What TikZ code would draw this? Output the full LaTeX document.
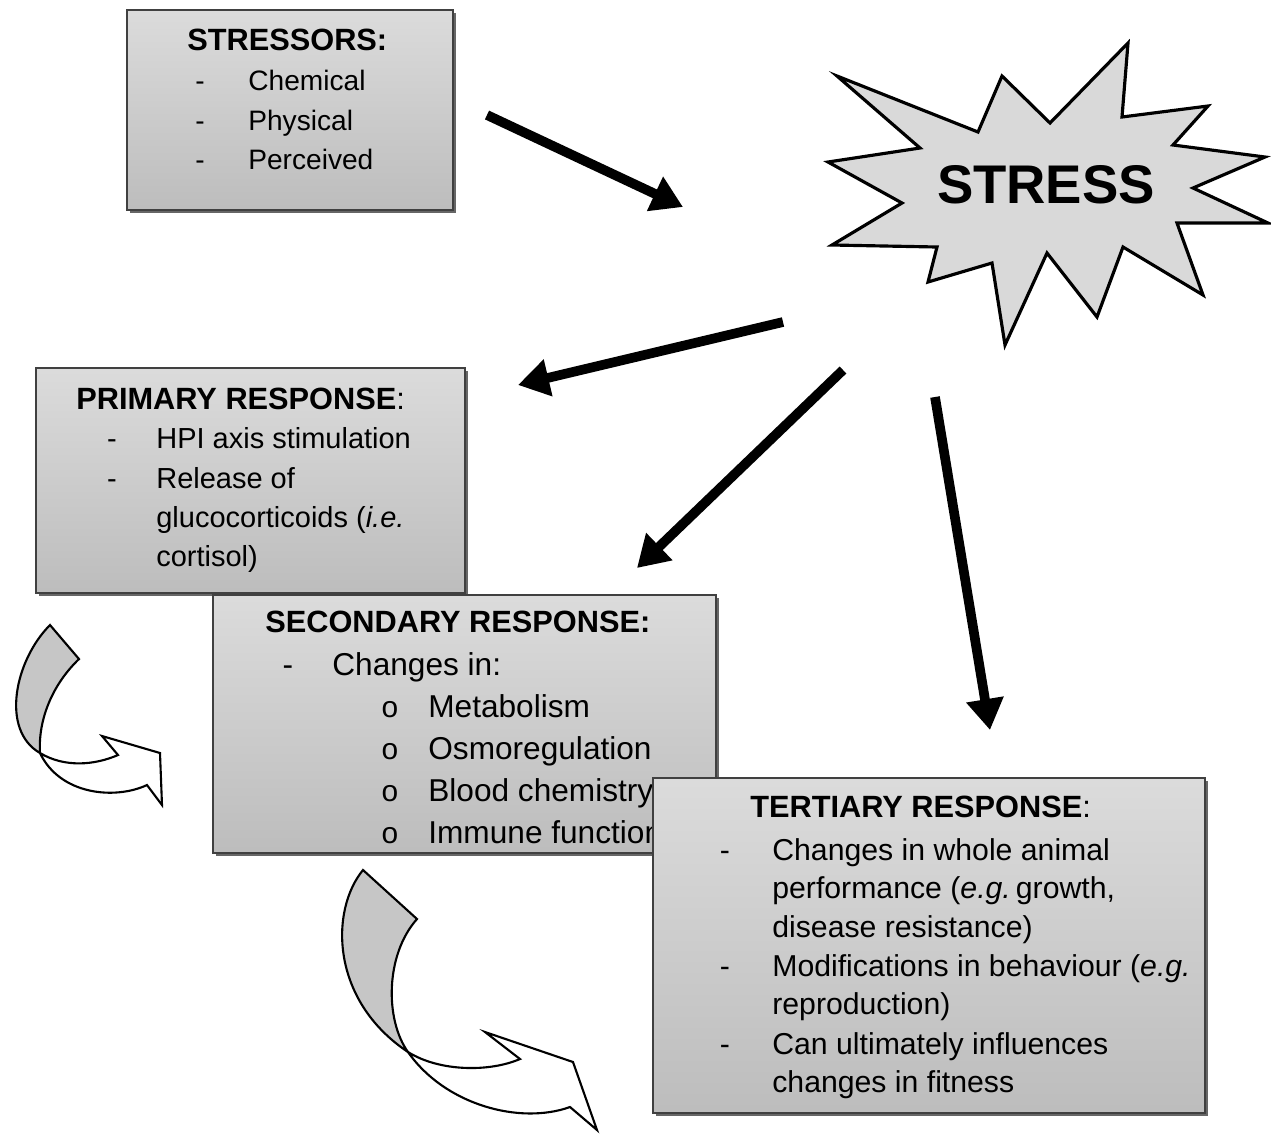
\documentclass[tikz,border=0pt]{standalone}
\usepackage{fontspec}
\setmainfont{Liberation Sans}
\usetikzlibrary{arrows.meta, shadows}
\tikzset{
    panel/.style={draw=black!75, line width=0.9pt, top color=gray!28, bottom color=gray!52,
        drop shadow={shadow xshift=1.5pt, shadow yshift=-1.5pt, fill=black!60, opacity=1}},
    head/.style={font=\bfseries\fontsize{17.5}{21}\selectfont, anchor=base west, inner sep=0pt},
    txt/.style={font=\fontsize{#1}{#1}\selectfont, anchor=base west, inner sep=0pt},
    mark dash/.style={font=\fontsize{#1}{#1}\selectfont, anchor=base, inner sep=0pt},
    burst/.style={draw=black, line width=1.8pt, line join=miter, fill=gray!30},
    push/.style={line width=5.5pt, -{Triangle[length=0.62cm, width=0.72cm]}},
    twist/.style={draw=black, line width=1.2pt, line join=miter}
}
\begin{document}
\begin{tikzpicture}[x=0.02cm, y=-0.02cm]
    \useasboundingbox (0,0) rectangle (1271,1134);

    % Stressors box
    \node[panel, minimum width=6.52cm, minimum height=4cm] (stressors) at (290,110) {};
    \node[head] (stressorsHead) at (187,50) {STRESSORS:};
    \foreach \y/\t in {90/Chemical, 130/Physical, 169/Perceived} {
        \node[mark dash=16] at (200,\y) {-};
        \node[txt=16] at (248,\y) {\t};
    }

    % Stress starburst
    \draw[burst] (837,76) -- (978,132) -- (1002,76) -- (1050,123) -- (1128,43) -- (1122,117)
        -- (1208,106) -- (1173,145) -- (1265,157) -- (1193,188) -- (1268,223) -- (1177,223)
        -- (1203,295) -- (1123,247) -- (1097,317) -- (1047,253) -- (1005,345) -- (992,263)
        -- (928,282) -- (937,247) -- (832,245) -- (902,203) -- (828,162) -- (920,148) -- cycle;
    \node[font=\bfseries\fontsize{31}{31}\selectfont, anchor=base, inner sep=0pt] (stress) at (1046,203) {STRESS};

    % Straight arrows
    \coordinate (toStressA) at (487,115);
    \coordinate (toStressB) at (683,207);
    \coordinate (toPrimA) at (783,322);
    \coordinate (toPrimB) at (518,385);
    \coordinate (toSecA) at (843,370);
    \coordinate (toSecB) at (637,568);
    \coordinate (toTerA) at (935,397);
    \coordinate (toTerB) at (990,730);
    \draw[push] (toStressA) -- (toStressB);
    \draw[push] (toPrimA) -- (toPrimB);
    \draw[push] (toSecA) -- (toSecB);
    \draw[push] (toTerA) -- (toTerB);

    % Primary response box
    \node[panel, minimum width=8.58cm, minimum height=4.5cm] (primary) at (250.5,480.5) {};
    \node[head] (primaryHead) at (76,409) {PRIMARY RESPONSE\mdseries:};
    \foreach \y in {448,488} \node[mark dash=16.5] at (112,\y) {-};
    \node[txt=16.5] at (156,448) {HPI axis stimulation};
    \node[txt=16.5] at (156,488) {Release of};
    \node[txt=16.5] at (156,527) {glucocorticoids (\textit{i.e.}};
    \node[txt=16.5] at (156,566) {cortisol)};

    % Secondary response box
    \node[panel, minimum width=10.06cm, minimum height=5.16cm] (secondary) at (464.5,724) {};
    \node[head] (secondaryHead) at (265,632) {SECONDARY RESPONSE:};
    \node[mark dash=18] at (288,675) {-};
    \node[txt=18] at (332,675) {Changes in:};
    \foreach \y/\t in {717/Metabolism, 759/Osmoregulation, 801/Blood chemistry, 843/Immune function} {
        \node[mark dash=17] at (390,\y) {o};
        \node[txt=18] at (428,\y) {\t};
    }

    % Tertiary response box
    \node[panel, minimum width=11.04cm, minimum height=6.7cm] (tertiary) at (929,945.5) {};
    \node[head] (tertiaryHead) at (750,817) {TERTIARY RESPONSE\mdseries:};
    \foreach \y in {860,976,1054} \node[mark dash=17.2] at (725,\y) {-};
    \node[txt=17.2] at (772,860) {Changes in whole animal};
    \node[txt=17.2] at (772,898) {performance (\textit{e.g.}\,growth,};
    \node[txt=17.2] at (772,937) {disease resistance)};
    \node[txt=17.2] at (772,976) {Modifications in behaviour (\textit{e.g.}};
    \node[txt=17.2] at (772,1014) {reproduction)};
    \node[txt=17.2] at (772,1054) {Can ultimately influences};
    \node[txt=17.2] at (772,1092) {changes in fitness};

    % Curved arrow between primary and secondary
    \filldraw[twist, fill=white] (40,753) .. controls (65,768) and (95,765) .. (118,755)
        -- (102,736) -- (160,753) -- (162,805) -- (147,785)
        .. controls (115,800) and (60,795) .. (40,753) -- cycle;
    \filldraw[twist, fill=gray!45] (50,625) -- (79,659)
        .. controls (52,685) and (38,720) .. (40,753)
        .. controls (0,730) and (15,660) .. (50,625) -- cycle;

    % Curved arrow between secondary and tertiary
    \filldraw[twist, fill=white] (408,1052) .. controls (440,1072) and (490,1072) .. (520,1059)
        -- (485,1032) -- (573,1062) -- (597,1130) -- (570,1107)
        .. controls (520,1125) and (445,1105) .. (408,1052) -- cycle;
    \filldraw[twist, fill=gray!45] (363,870) -- (417,919)
        .. controls (385,955) and (385,1020) .. (408,1052)
        .. controls (330,1000) and (330,910) .. (363,870) -- cycle;
\end{tikzpicture}
\end{document}
